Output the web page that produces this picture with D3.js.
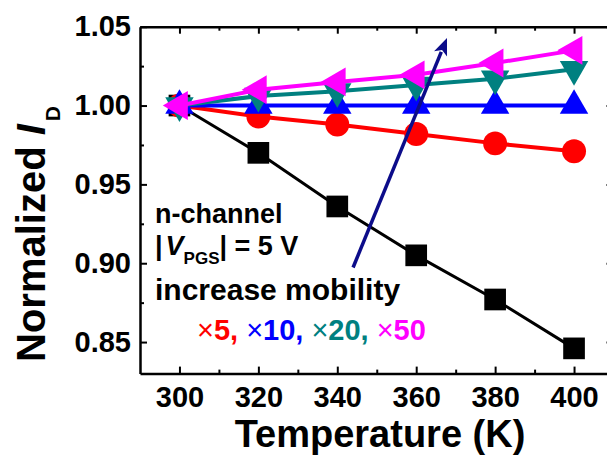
<!DOCTYPE html>
<html>
<head>
<meta charset="utf-8">
<script src="https://cdn.jsdelivr.net/npm/d3@7"></script>
<style>
  body { margin: 0; background: #fff; }
  svg text { font-family: Arial, "Liberation Sans", sans-serif; font-weight: bold; fill: #000; }
</style>
</head>
<body>
<div id="chart"></div>
<script>
// temperatures (K) and normalized drain current for each mobility factor
const temps   = [300, 320, 340, 360, 380, 400];
const idBase  = [1.000, 0.970, 0.936, 0.905, 0.877, 0.846];
const idX5    = [1.000, 0.993, 0.988, 0.982, 0.976, 0.971];
const idX10   = [1.000, 1.000, 1.000, 1.000, 1.000, 1.000];
const idX20   = [1.000, 1.006, 1.009, 1.013, 1.017, 1.023];
const idX50   = [1.000, 1.010, 1.015, 1.0195, 1.027, 1.035];

const xTicks = [300, 320, 340, 360, 380, 400];
const xMinor = [310, 330, 350, 370, 390];
const yTicks = [0.85, 0.90, 0.95, 1.00, 1.05];
const yMinor = [0.875, 0.925, 0.975, 1.025];
const factors = ["5", "10", "20", "50"];
const factorColors = ["#ff0000", "#0000ff", "#008080", "#ff00ff"];

const w = 607, h = 455;

const x = d3.scaleLinear().domain([290, 410]).range([140, 613.5]);
const y = d3.scaleLinear().domain([0.83, 1.05]).range([373.6, 26.7]);

const svg = d3.select("#chart").append("svg")
  .attr("width", w)
  .attr("height", h);

const series = [
  {vals: idBase, color: "#000000", sym: d3.symbolSquare,   size: 470, rot: 0,   lw: 3},
  {vals: idX5,   color: factorColors[0], sym: d3.symbolCircle, size: 450, rot: 0,   lw: 4},
  {vals: idX10,  color: factorColors[1], sym: d3.symbolTriangle, size: 350, rot: 0,   lw: 4},
  {vals: idX20,  color: factorColors[2], sym: d3.symbolTriangle, size: 350, rot: 180, lw: 4},
  {vals: idX50,  color: factorColors[3], sym: d3.symbolTriangle, size: 360, rot: -90, lw: 4}
];

const line = d3.line().x((d, i) => x(temps[i])).y(d => y(d));

series.forEach(s => {
  const g = svg.append("g");
  g.append("path")
    .datum(s.vals)
    .attr("d", line)
    .attr("fill", "none")
    .attr("stroke", s.color)
    .attr("stroke-width", s.lw);
  g.selectAll("path.pt")
    .data(s.vals)
    .enter()
    .append("path")
    .attr("class", "pt")
    .attr("d", d3.symbol().type(s.sym).size(s.size))
    .attr("transform", (d, i) => "translate(" + x(temps[i]) + "," + y(d) + ") rotate(" + s.rot + ")")
    .attr("fill", s.color);
});

// axes, ticks pointing inward
const axisStyle = g => {
  g.select(".domain").attr("stroke-width", 2.5);
  g.selectAll(".tick line").attr("stroke-width", 2);
  g.selectAll(".tick text").style("font-size", "29px").style("font-weight", "bold");
};

svg.append("g")
  .attr("transform", "translate(0," + y.range()[0] + ")")
  .call(d3.axisBottom(x).tickValues(xTicks).tickSize(-7).tickSizeOuter(0).tickPadding(12.5))
  .call(axisStyle);
svg.append("g")
  .attr("transform", "translate(0," + y.range()[0] + ")")
  .call(d3.axisBottom(x).tickValues(xMinor).tickSize(-4).tickFormat(""))
  .call(g => g.select(".domain").remove())
  .call(axisStyle);

svg.append("g")
  .attr("transform", "translate(0," + y.range()[1] + ")")
  .call(d3.axisTop(x).tickValues(xTicks).tickSize(-7).tickSizeOuter(0).tickFormat(""))
  .call(axisStyle);
svg.append("g")
  .attr("transform", "translate(0," + y.range()[1] + ")")
  .call(d3.axisTop(x).tickValues(xMinor).tickSize(-4).tickFormat(""))
  .call(g => g.select(".domain").remove())
  .call(axisStyle);

svg.append("g")
  .attr("transform", "translate(" + x.range()[0] + ",0)")
  .call(d3.axisLeft(y).tickValues(yTicks).tickSize(-7).tickSizeOuter(0).tickPadding(9).tickFormat(d3.format(".2f")))
  .call(axisStyle);
svg.append("g")
  .attr("transform", "translate(" + x.range()[0] + ",0)")
  .call(d3.axisLeft(y).tickValues(yMinor).tickSize(-4).tickFormat(""))
  .call(g => g.select(".domain").remove())
  .call(axisStyle);

svg.append("g")
  .attr("transform", "translate(" + x.range()[1] + ",0)")
  .call(d3.axisRight(y).tickValues(yTicks).tickSize(-7).tickSizeOuter(0).tickFormat(""))
  .call(axisStyle);
svg.append("g")
  .attr("transform", "translate(" + x.range()[1] + ",0)")
  .call(d3.axisRight(y).tickValues(yMinor).tickSize(-4).tickFormat(""))
  .call(g => g.select(".domain").remove())
  .call(axisStyle);

// axis titles
svg.append("text")
  .attr("x", 380)
  .attr("y", 447)
  .attr("text-anchor", "middle")
  .style("font-size", "38px")
  .text("Temperature (K)");

const yTitle = svg.append("text")
  .attr("transform", "translate(45,362) rotate(-90)")
  .style("font-size", "40px");
yTitle.append("tspan").text("Normalized ");
yTitle.append("tspan").style("font-style", "italic").text("I");
yTitle.append("tspan").attr("dx", 3).attr("dy", 15).style("font-size", "21px").text("D");

// arrow: direction of increasing mobility
const arrowFrom = [344, 0.8973];
const arrowTo = [367.8, 1.0428];
const ax0 = x(arrowFrom[0]), ay0 = y(arrowFrom[1]);
const ax1 = x(arrowTo[0]), ay1 = y(arrowTo[1]);
const len = Math.hypot(ax1 - ax0, ay1 - ay0);
const ux = (ax1 - ax0) / len, uy = (ay1 - ay0) / len;
const headL = 17, headW = 7;
const bx = ax1 - ux * headL, by = ay1 - uy * headL;
svg.append("line")
  .attr("x1", ax0).attr("y1", ay0)
  .attr("x2", bx + ux * 2).attr("y2", by + uy * 2)
  .attr("stroke", "#0c0c8a")
  .attr("stroke-width", 3.5);
svg.append("path")
  .attr("d", "M" + ax1 + "," + ay1 +
    "L" + (bx - uy * headW) + "," + (by + ux * headW) +
    "L" + (bx + ux * 4) + "," + (by + uy * 4) +
    "L" + (bx + uy * headW) + "," + (by - ux * headW) + "Z")
  .attr("fill", "#0c0c8a");

// annotation text
svg.append("text")
  .attr("x", 155).attr("y", 223)
  .style("font-size", "27px")
  .text("n-channel");

const vLine = svg.append("text")
  .attr("x", 155).attr("y", 255)
  .style("font-size", "27px");
vLine.append("tspan").text("|");
vLine.append("tspan").style("font-style", "italic").attr("dx", 3).text("V");
vLine.append("tspan").attr("dy", 9).style("font-size", "17px").text("PGS");
vLine.append("tspan").attr("dy", -9).text("| = 5 V");

svg.append("text")
  .attr("x", 155).attr("y", 300)
  .style("font-size", "30px")
  .text("increase mobility");

const fLine = svg.append("text")
  .attr("x", 197).attr("y", 340)
  .style("font-size", "29px");
factors.forEach((f, i) => {
  fLine.append("tspan").attr("fill", factorColors[i]).style("font-weight", "normal")
    .attr("dx", i === 0 ? 0 : 8).text("\u00d7");
  fLine.append("tspan").attr("fill", factorColors[i])
    .text(f + (i < factors.length - 1 ? "," : ""));
});
</script>
</body>
</html>
